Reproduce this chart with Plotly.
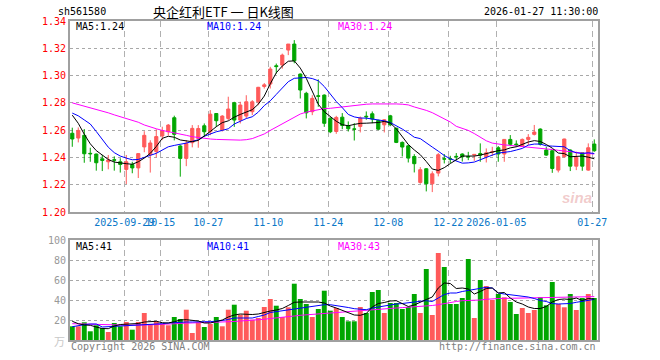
import plotly.graph_objects as go

# ---------------- data ----------------
dates = ["2025-09-16","2025-09-17","2025-09-18","2025-09-19","2025-09-22","2025-09-23","2025-09-24","2025-09-25","2025-09-26","2025-09-29",
         "2025-09-30","2025-10-09","2025-10-10","2025-10-13","2025-10-14","2025-10-15","2025-10-16","2025-10-17","2025-10-20","2025-10-21",
         "2025-10-22","2025-10-23","2025-10-24","2025-10-27","2025-10-28","2025-10-29","2025-10-30","2025-10-31","2025-11-03","2025-11-04",
         "2025-11-05","2025-11-06","2025-11-07","2025-11-10","2025-11-11","2025-11-12","2025-11-13","2025-11-14","2025-11-17","2025-11-18",
         "2025-11-19","2025-11-20","2025-11-21","2025-11-24","2025-11-25","2025-11-26","2025-11-27","2025-11-28","2025-12-01","2025-12-02",
         "2025-12-03","2025-12-04","2025-12-05","2025-12-08","2025-12-09","2025-12-10","2025-12-11","2025-12-12","2025-12-15","2025-12-16",
         "2025-12-17","2025-12-18","2025-12-19","2025-12-22","2025-12-23","2025-12-24","2025-12-25","2025-12-26","2025-12-29","2025-12-30",
         "2025-12-31","2026-01-05","2026-01-06","2026-01-07","2026-01-08","2026-01-09","2026-01-12","2026-01-13","2026-01-14","2026-01-15",
         "2026-01-16","2026-01-19","2026-01-20","2026-01-21","2026-01-22","2026-01-23","2026-01-26","2026-01-27"]

open_ = [1.2577,1.2542,1.2562,1.2430,1.2425,1.2390,1.2368,1.2383,1.2368,1.2312,
         1.2348,1.2323,1.2477,1.2421,1.2443,1.2557,1.2588,1.2691,1.2484,1.2393,
         1.2508,1.2539,1.2632,1.2588,1.2722,1.2601,1.2686,1.2801,1.2674,1.2703,
         1.2735,1.2808,1.2920,1.2938,1.3072,1.3077,1.3187,1.3231,1.3011,1.2870,
         1.2735,1.2852,1.2857,1.2688,1.2590,1.2695,1.2632,1.2609,1.2627,1.2702,
         1.2720,1.2671,1.2639,1.2705,1.2615,1.2510,1.2485,1.2407,1.2217,1.2317,
         1.2207,1.2285,1.2390,1.2390,1.2408,1.2425,1.2407,1.2417,1.2429,1.2405,
         1.2439,1.2471,1.2425,1.2532,1.2498,1.2483,1.2532,1.2569,1.2608,1.2454,
         1.2449,1.2307,1.2405,1.2454,1.2336,1.2434,1.2307,1.2498]
high = [1.2618,1.2620,1.2608,1.2471,1.2428,1.2418,1.2418,1.2408,1.2394,1.2418,
        1.2368,1.2430,1.2592,1.2526,1.2606,1.2625,1.2645,1.2706,1.2490,1.2527,
        1.2637,1.2637,1.2649,1.2747,1.2722,1.2710,1.2845,1.2808,1.2808,1.2856,
        1.2820,1.2917,1.2945,1.3064,1.3088,1.3161,1.3231,1.3260,1.3015,1.2881,
        1.2856,1.2972,1.2862,1.2693,1.2705,1.2725,1.2664,1.2651,1.2700,1.2737,
        1.2737,1.2676,1.2681,1.2712,1.2615,1.2517,1.2493,1.2424,1.2329,1.2322,
        1.2298,1.2432,1.2425,1.2412,1.2432,1.2430,1.2441,1.2422,1.2503,1.2466,
        1.2478,1.2483,1.2535,1.2564,1.2525,1.2539,1.2571,1.2638,1.2613,1.2478,
        1.2454,1.2412,1.2537,1.2459,1.2442,1.2434,1.2503,1.2532]
low = [1.2478,1.2510,1.2361,1.2368,1.2303,1.2300,1.2313,1.2303,1.2289,1.2205,
       1.2284,1.2249,1.2438,1.2289,1.2401,1.2527,1.2560,1.2525,1.2259,1.2336,
       1.2474,1.2471,1.2551,1.2563,1.2624,1.2590,1.2673,1.2624,1.2649,1.2686,
       1.2710,1.2783,1.2905,1.2905,1.3015,1.3051,1.3150,1.3090,1.2832,1.2686,
       1.2710,1.2771,1.2624,1.2578,1.2573,1.2607,1.2590,1.2524,1.2583,1.2676,
       1.2651,1.2600,1.2583,1.2629,1.2505,1.2407,1.2363,1.2290,1.2207,1.2151,
       1.2146,1.2261,1.2356,1.2359,1.2378,1.2370,1.2380,1.2375,1.2368,1.2363,
       1.2410,1.2368,1.2368,1.2483,1.2476,1.2478,1.2490,1.2561,1.2487,1.2412,
       1.2287,1.2290,1.2400,1.2300,1.2307,1.2302,1.2302,1.2441]
close = [1.2535,1.2598,1.2427,1.2427,1.2361,1.2378,1.2381,1.2380,1.2348,1.2368,
         1.2323,1.2428,1.2562,1.2506,1.2553,1.2596,1.2637,1.2569,1.2393,1.2503,
         1.2613,1.2612,1.2588,1.2717,1.2669,1.2703,1.2755,1.2674,1.2784,1.2808,
         1.2808,1.2914,1.2932,1.3048,1.3066,1.3150,1.3231,1.3108,1.2894,1.2727,
         1.2833,1.2848,1.2650,1.2588,1.2693,1.2634,1.2610,1.2607,1.2688,1.2698,
         1.2681,1.2607,1.2676,1.2639,1.2510,1.2476,1.2395,1.2354,1.2310,1.2207,
         1.2280,1.2420,1.2388,1.2388,1.2405,1.2405,1.2404,1.2422,1.2417,1.2434,
         1.2442,1.2425,1.2532,1.2496,1.2493,1.2532,1.2547,1.2586,1.2496,1.2417,
         1.2319,1.2405,1.2535,1.2336,1.2400,1.2336,1.2471,1.2449]

volume = [13.7,13.7,17.7,8.7,14.7,12.0,8.0,17.0,13.7,18.0,
          10.3,18.0,27.0,16.0,18.7,16.0,14.7,23.0,21.0,30.3,
          7.0,17.7,13.0,16.0,23.0,13.7,30.3,35.3,25.3,29.3,
          20.3,22.0,33.0,41.0,34.3,23.0,32.7,56.3,41.0,36.0,
          23.0,31.0,49.3,29.3,32.0,23.0,18.7,18.7,33.0,27.0,
          48.0,50.0,27.0,37.0,37.0,31.0,33.0,46.0,27.0,71.0,
          25.0,87.0,73.0,36.0,36.0,42.0,81.0,22.0,60.0,54.0,
          40.0,46.0,42.7,38.0,26.0,32.0,27.0,30.0,42.7,34.7,
          58.0,36.0,32.7,46.0,30.0,42.0,46.0,42.0]

ma5 = [1.2710,1.2650,1.2570,1.2500,1.2450,1.2420,1.2385,1.2366,1.2358,1.2354,
       1.2350,1.2368,1.2395,1.2430,1.2480,1.2540,1.2555,1.2548,1.2528,1.2520,
       1.2515,1.2525,1.2555,1.2590,1.2625,1.2655,1.2668,1.2695,1.2715,1.2735,
       1.2750,1.2790,1.2850,1.2940,1.3020,1.3070,1.3105,1.3108,1.3055,1.2980,
       1.2880,1.2790,1.2735,1.2700,1.2665,1.2640,1.2632,1.2642,1.2650,1.2651,
       1.2652,1.2656,1.2664,1.2652,1.2610,1.2550,1.2495,1.2455,1.2420,1.2370,
       1.2315,1.2305,1.2325,1.2355,1.2385,1.2410,1.2410,1.2410,1.2417,1.2428,
       1.2434,1.2450,1.2455,1.2470,1.2478,1.2495,1.2513,1.2523,1.2517,1.2495,
       1.2468,1.2432,1.2428,1.2405,1.2405,1.2410,1.2402,1.2390]
ma10 = [1.2725,1.2705,1.2675,1.2645,1.2590,1.2535,1.2475,1.2435,1.2410,1.2395,
        1.2383,1.2385,1.2398,1.2415,1.2430,1.2455,1.2478,1.2488,1.2495,1.2505,
        1.2518,1.2530,1.2555,1.2572,1.2588,1.2598,1.2610,1.2645,1.2668,1.2685,
        1.2698,1.2732,1.2780,1.2815,1.2862,1.2910,1.2955,1.2980,1.2985,1.2986,
        1.2978,1.2962,1.2920,1.2862,1.2810,1.2765,1.2715,1.2697,1.2689,1.2688,
        1.2681,1.2676,1.2668,1.2656,1.2635,1.2608,1.2580,1.2548,1.2538,1.2510,
        1.2476,1.2446,1.2414,1.2390,1.2372,1.2358,1.2360,1.2366,1.2383,1.2403,
        1.2417,1.2432,1.2436,1.2443,1.2454,1.2466,1.2490,1.2498,1.2498,1.2485,
        1.2483,1.2483,1.2478,1.2450,1.2434,1.2429,1.2434,1.2429]
ma30 = [1.2800,1.2788,1.2778,1.2765,1.2752,1.2740,1.2727,1.2712,1.2698,1.2685,
        1.2672,1.2658,1.2638,1.2622,1.2610,1.2598,1.2590,1.2582,1.2572,1.2562,
        1.2552,1.2545,1.2540,1.2535,1.2532,1.2530,1.2528,1.2527,1.2527,1.2530,
        1.2538,1.2555,1.2572,1.2598,1.2622,1.2645,1.2672,1.2695,1.2718,1.2732,
        1.2740,1.2752,1.2758,1.2760,1.2765,1.2772,1.2778,1.2785,1.2788,1.2790,
        1.2792,1.2793,1.2793,1.2793,1.2792,1.2790,1.2785,1.2770,1.2758,1.2745,
        1.2728,1.2705,1.2680,1.2660,1.2628,1.2615,1.2598,1.2575,1.2548,1.2522,
        1.2505,1.2497,1.2492,1.2488,1.2484,1.2480,1.2476,1.2472,1.2470,1.2467,
        1.2458,1.2452,1.2446,1.2441,1.2435,1.2432,1.2429,1.2425]

vol_ma5 = [18.7,16.3,15.0,14.7,13.0,11.5,11.3,14.0,15.5,16.0,
           16.0,16.5,18.0,18.7,18.7,17.3,17.0,18.3,20.0,20.3,
           20.0,19.0,17.0,17.0,18.5,20.0,23.0,25.0,26.0,25.5,
           25.5,26.0,27.7,29.0,30.0,31.5,34.5,37.7,38.0,38.0,
           38.0,38.0,37.0,34.0,32.0,29.5,27.5,25.0,24.7,26.5,
           33.0,36.5,37.5,39.0,39.3,36.5,33.5,35.0,38.0,40.5,
           43.0,52.0,57.0,56.5,51.5,52.0,51.0,46.0,48.5,51.5,
           52.0,47.0,47.5,42.0,38.0,36.0,33.0,31.5,31.5,33.5,
           38.0,40.5,41.0,40.5,42.0,39.5,41.5,41.0]
vol_ma10 = [13.3,14.5,15.3,16.0,16.0,13.0,13.3,14.0,14.5,14.7,
            14.7,14.7,15.0,15.3,15.7,16.3,17.0,17.5,18.0,18.0,
            18.0,18.5,18.3,18.3,18.7,19.5,20.5,22.0,22.0,22.0,
            22.0,23.5,25.0,27.5,28.3,29.3,30.3,31.3,32.0,32.5,
            33.7,34.3,35.3,35.3,34.5,33.7,32.5,31.3,30.7,30.3,
            32.0,33.0,34.5,35.3,36.0,36.5,37.0,38.0,38.7,39.3,
            38.5,42.0,45.5,47.0,47.0,48.5,49.5,50.3,51.5,52.7,
            52.0,47.0,46.0,45.3,44.7,44.0,43.0,41.5,39.5,38.5,
            36.5,36.0,36.0,36.5,37.7,38.5,39.5,40.6]
vol_ma30 = [16.3,16.2,16.1,16.0,16.0,16.0,15.7,15.4,15.0,14.8,
            14.7,14.8,15.0,15.2,15.3,15.5,15.8,16.2,16.6,17.0,
            17.2,17.3,17.5,17.6,17.7,17.8,18.0,18.5,19.0,19.3,
            19.5,20.0,20.7,21.5,22.3,23.0,23.5,24.0,24.7,25.2,
            25.7,26.0,26.3,27.0,27.5,28.0,28.5,29.0,29.3,29.8,
            30.3,30.8,31.2,31.6,32.0,32.4,32.8,33.2,33.5,33.7,
            34.5,35.3,36.5,37.5,38.5,39.3,39.3,39.3,40.0,40.7,
            41.3,41.5,41.6,41.7,41.8,41.9,42.0,42.1,42.2,42.3,
            42.4,42.6,42.7,42.9,43.0,43.2,43.3,43.4]

tick_dates = ["2025-09-29","2025-10-15","2025-10-27","2025-11-10","2025-11-24",
              "2025-12-08","2025-12-22","2026-01-05","2026-01-27"]
tick_labels = ["2025-09-29","10-15","10-27","11-10","11-24","12-08","12-22","2026-01-05","01-27"]
price_ticks = [1.20,1.22,1.24,1.26,1.28,1.30,1.32,1.34]
vol_ticks = [20,40,60,80,100]

# ---------------- styling ----------------
RED = "#FF5A5A"
GREEN = "#00A600"
MONO = "DejaVu Sans Mono, Liberation Mono, monospace"
CJK = "Noto Sans CJK SC, sans-serif"
W, H = 660, 360
L, R, T, B = 70, 62, 21, 20
PW, PH = W - L - R, H - T - B
price_top, price_bot = 21, 212
vol_top, vol_bot = 240, 340

def py(p):  # pixel y -> paper
    return (H - B - p) / PH
def px(p):
    return (p - L) / PW

idx = list(range(len(dates)))
grid_x = [dates.index(d) - 0.33 for d in tick_dates]
vol_colors = [RED if c >= o else GREEN for o, c in zip(open_, close)]

fig = go.Figure()
fig.add_trace(go.Candlestick(
    x=idx, open=open_, high=high, low=low, close=close,
    increasing=dict(line=dict(color=RED, width=1), fillcolor=RED),
    decreasing=dict(line=dict(color=GREEN, width=1), fillcolor=GREEN),
    whiskerwidth=0, xaxis="x", yaxis="y", showlegend=False, hoverinfo="skip"))
for arr, col in [(ma30, "#FF00FF"), (ma10, "#0000FF"), (ma5, "#000000")]:
    fig.add_trace(go.Scatter(x=idx, y=arr, mode="lines", line=dict(color=col, width=1),
                             xaxis="x", yaxis="y", showlegend=False, hoverinfo="skip"))

fig.add_trace(go.Bar(x=idx, y=volume, marker=dict(color=vol_colors, line=dict(width=0)),
                     width=0.82, xaxis="x2", yaxis="y2", showlegend=False, hoverinfo="skip"))
for arr, col in [(vol_ma30, "#FF00FF"), (vol_ma10, "#0000FF"), (vol_ma5, "#000000")]:
    fig.add_trace(go.Scatter(x=idx, y=arr, mode="lines", line=dict(color=col, width=1),
                             xaxis="x2", yaxis="y2", showlegend=False, hoverinfo="skip"))

xr = [-0.38, len(dates) - 1 + 0.62]
axis_line = dict(showline=True, mirror=True, linecolor="#A0A0A0", linewidth=2)
fig.update_layout(
    width=W, height=H, margin=dict(l=L, r=R, t=T, b=B, pad=0),
    paper_bgcolor="white", plot_bgcolor="white", boxgap=0.25,
    xaxis=dict(domain=[0, 1], anchor="y", range=xr, rangeslider=dict(visible=False),
               tickmode="array", tickvals=grid_x, ticktext=tick_labels, tickangle=0,
               ticks="", tickfont=dict(family=MONO, size=10, color="#0A78C8"),
               showgrid=True, gridcolor="#B0B0B0", griddash="6px,4px", gridwidth=1,
               zeroline=False, **axis_line),
    yaxis=dict(domain=[py(price_bot), 1], anchor="x", range=[1.20, 1.34],
               tickmode="array", tickvals=price_ticks, tickformat=".2f", ticks="",
               tickfont=dict(family=MONO, size=10, color="#FF0000"),
               showgrid=True, gridcolor="#A8A8A8", griddash="dot", gridwidth=1,
               zeroline=False, **axis_line),
    xaxis2=dict(domain=[0, 1], anchor="y2", range=xr, matches="x",
                tickmode="array", tickvals=grid_x, showticklabels=False, ticks="",
                showgrid=True, gridcolor="#B0B0B0", griddash="6px,4px", gridwidth=1,
                zeroline=False, **axis_line),
    yaxis2=dict(domain=[0, py(vol_top)], anchor="x2", range=[0, 100],
                tickmode="array", tickvals=vol_ticks, ticks="",
                tickfont=dict(family=MONO, size=10, color="#999999"),
                showgrid=True, gridcolor="#A8A8A8", griddash="dot", gridwidth=1,
                zeroline=False, **axis_line),
)

def ann(text, x, y, color="#000000", size=10, family=MONO, xanchor="left", yanchor="middle", **kw):
    fig.add_annotation(text=text, x=px(x), y=py(y), xref="paper", yref="paper",
                       showarrow=False, xanchor=xanchor, yanchor=yanchor,
                       font=dict(color=color, size=size, family=family), **kw)

ann("sh561580", 56, 12)
ann("央企红利ETF\u00a0一\u00a0日K线图", 223, 12, size=13, family=CJK, xanchor="center")
ann("2026-01-27 11:30:00", 600, 12, xanchor="right")
ann("MA5:" + f"{ma5[-1]:.2f}", 74, 27)
ann("MA10:" + f"{ma10[-1]:.2f}", 205, 27, color="#0000FF")
ann("MA30:" + f"{ma30[-1]:.2f}", 336, 27, color="#FF00FF")
ann("MA5:" + f"{vol_ma5[-1]:.0f}", 74, 246)
ann("MA10:" + f"{vol_ma10[-1]:.0f}", 205, 246, color="#0000FF")
ann("MA30:" + f"{vol_ma30[-1]:.0f}", 336, 246, color="#FF00FF")
ann("万", 67, 341, color="#C8C8C8", size=11, family=CJK, xanchor="right")
ann("Copyright 2026 SINA.COM", 69, 346, color="#808080")
ann("http://finance.sina.com.cn", 598, 346, color="#808080", xanchor="right")
ann("<i><b>sina</b></i>", 594, 197, color="rgba(225,140,140,0.45)", size=15,
    family="Liberation Sans, Arial, sans-serif", xanchor="right")

fig.write_html("out.html", config={"displayModeBar": False},
               post_script="document.body.style.margin='0';")
